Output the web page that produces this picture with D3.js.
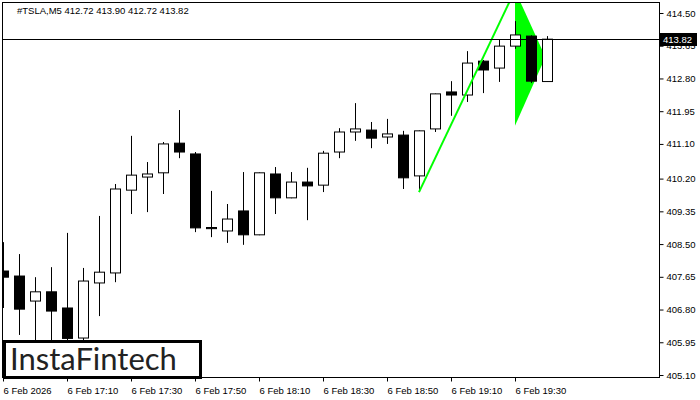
<!DOCTYPE html>
<html>
<head>
<meta charset="utf-8">
<script src="https://cdn.jsdelivr.net/npm/d3@7"></script>
<style>
  body { margin: 0; background: #fff; }
  svg { display: block; font-family: "Liberation Sans", Arial, sans-serif; }
</style>
</head>
<body>
<div id="chart-area"></div>
<script>
// M5 candles, bar 0 = 16:50
const opens  = [407.80, 407.67, 407.02, 407.26, 406.84, 406.06, 407.49, 407.75, 409.90, 410.24,
                410.35, 411.12, 410.84, 408.93, 408.84, 409.36, 408.74, 410.32, 409.70, 410.11,
                410.03, 410.89, 411.41, 411.46, 411.28, 411.33, 410.27, 411.49, 412.45, 412.37,
                413.25, 413.07, 413.64, 413.90, 412.72];
const highs  = [408.55, 408.24, 407.64, 407.90, 408.79, 407.88, 409.23, 410.06, 411.31, 410.63,
                411.15, 411.98, 410.89, 409.88, 409.54, 410.37, 410.36, 410.50, 410.37, 410.48,
                410.92, 411.51, 412.16, 411.67, 411.75, 411.44, 411.45, 412.41, 412.73, 413.51,
                413.28, 413.82, 414.29, 413.92, 413.90];
const lows   = [406.84, 406.14, 405.88, 405.75, 405.90, 406.00, 406.63, 407.51, 409.28, 409.33,
                409.80, 410.73, 408.81, 408.68, 408.53, 408.48, 408.73, 409.28, 409.69, 409.12,
                409.85, 410.73, 411.18, 410.99, 411.10, 409.93, 409.85, 411.41, 411.83, 412.19,
                412.42, 412.71, 413.57, 412.68, 412.72];
const closes = [407.64, 406.81, 407.26, 406.76, 406.05, 407.54, 407.77, 409.93, 410.29, 410.32,
                411.10, 410.89, 408.92, 408.90, 409.15, 408.74, 410.35, 409.70, 410.11, 410.01,
                410.86, 411.41, 411.49, 411.25, 411.36, 410.22, 411.44, 412.40, 412.37, 413.20,
                413.02, 413.64, 413.93, 412.73, 413.82];

const priceTicks = [414.50, 413.65, 412.80, 411.95, 411.10, 410.20, 409.35, 408.50, 407.65, 406.80, 405.95, 405.10];
const timeLabels = ["6 Feb 2026", "6 Feb 17:10", "6 Feb 17:30", "6 Feb 17:50", "6 Feb 18:10",
                    "6 Feb 18:30", "6 Feb 18:50", "6 Feb 19:10", "6 Feb 19:30"];
const timeLabelBars = [0, 4, 8, 12, 16, 20, 24, 28, 32];

const lastPrice = 413.82;
const titleText = "#TSLA,M5  412.72 413.90 412.72 413.82";

// bullish pennant (bar index, price)
const poleBars = [26, 32];
const polePrices = [409.85, 415.09];
const flagBars = [32, 33.9, 32];
const flagPrices = [415.09, 413.36, 411.57];

const width = 700, height = 400;
const plot = { left: 3, top: 3, right: 660, bottom: 378 };

const svg = d3.select("#chart-area")
  .append("svg")
  .attr("width", width)
  .attr("height", height);

const x = d3.scaleLinear().domain([0, (plot.right - plot.left) / 16]).range([plot.left, plot.right]);
const y = d3.scaleLinear().domain([405.10, 414.50]).range([375, 13]);

svg.append("defs").append("clipPath").attr("id", "plot-clip")
  .append("rect")
  .attr("x", plot.left).attr("y", plot.top)
  .attr("width", plot.right - plot.left).attr("height", plot.bottom - plot.top);

const g = svg.append("g").attr("clip-path", "url(#plot-clip)");

// flag sits behind the candles
g.append("path")
  .attr("d", d3.line()(flagBars.map((b, i) => [x(b), y(flagPrices[i])])) + "Z")
  .attr("fill", "#00ff00");

const bars = d3.range(opens.length);
const half = 5;

g.selectAll(".wick")
  .data(bars)
  .enter()
  .append("line")
  .attr("class", "wick")
  .attr("x1", i => Math.round(x(i)) + 0.5)
  .attr("x2", i => Math.round(x(i)) + 0.5)
  .attr("y1", i => y(highs[i]))
  .attr("y2", i => y(lows[i]))
  .attr("stroke", "#000")
  .attr("stroke-width", 1);

g.selectAll(".body")
  .data(bars)
  .enter()
  .append("rect")
  .attr("class", "body")
  .attr("x", i => Math.round(x(i)) - half + 0.5)
  .attr("y", i => y(Math.max(opens[i], closes[i])))
  .attr("width", half * 2)
  .attr("height", i => Math.max(1, Math.abs(y(opens[i]) - y(closes[i]))))
  .attr("fill", i => closes[i] >= opens[i] ? "#fff" : "#000")
  .attr("stroke", "#000")
  .attr("stroke-width", 1);

// pole line
g.append("line")
  .attr("x1", x(poleBars[0])).attr("y1", y(polePrices[0]))
  .attr("x2", x(poleBars[1])).attr("y2", y(polePrices[1]))
  .attr("stroke", "#00ff00")
  .attr("stroke-width", 2);

// current price line
svg.append("line")
  .attr("x1", plot.left).attr("x2", plot.right)
  .attr("y1", Math.round(y(lastPrice)) + 0.5).attr("y2", Math.round(y(lastPrice)) + 0.5)
  .attr("stroke", "#000");

// frame
svg.append("rect")
  .attr("x", plot.left - 0.5).attr("y", plot.top - 0.5)
  .attr("width", plot.right - plot.left).attr("height", plot.bottom - plot.top)
  .attr("fill", "none")
  .attr("stroke", "#000");

// price axis
const yAxisGroup = svg.append("g")
  .attr("transform", "translate(" + (plot.right - 0.5) + ",0)")
  .call(d3.axisRight(y).tickValues(priceTicks).tickSize(4).tickPadding(3).tickFormat(d3.format(".2f")));
yAxisGroup.select(".domain").remove();
yAxisGroup.selectAll("text").attr("font-size", "9.5px").attr("fill", "#000").attr("font-family", "Liberation Sans, Arial, sans-serif");
yAxisGroup.selectAll("line").attr("stroke", "#000");

// time axis
const xAxisGroup = svg.append("g")
  .attr("transform", "translate(0," + (plot.bottom - 0.5) + ")")
  .call(d3.axisBottom(x).tickValues(timeLabelBars).tickSize(4).tickPadding(6)
    .tickFormat((d, i) => timeLabels[i]));
xAxisGroup.select(".domain").remove();
xAxisGroup.selectAll("text")
  .attr("text-anchor", "start")
  .attr("font-size", "9.5px")
  .attr("fill", "#000")
  .attr("font-family", "Liberation Sans, Arial, sans-serif");
xAxisGroup.selectAll("line").attr("stroke", "#000");

// last price tag
const tagY = Math.round(y(lastPrice));
svg.append("rect")
  .attr("x", plot.right).attr("y", tagY - 6)
  .attr("width", 37).attr("height", 13)
  .attr("fill", "#000");
svg.append("text")
  .attr("x", plot.right + 3).attr("y", tagY + 4)
  .attr("font-size", "9.5px")
  .attr("fill", "#fff")
  .text(d3.format(".2f")(lastPrice));

// title
svg.append("text")
  .attr("x", 17).attr("y", 14)
  .attr("font-size", "9.5px")
  .attr("fill", "#000")
  .text(titleText);

// logo
svg.append("rect")
  .attr("x", 4.5).attr("y", 341.5)
  .attr("width", 196).attr("height", 36)
  .attr("fill", "#fff")
  .attr("stroke", "#000")
  .attr("stroke-width", 3);
svg.append("text")
  .attr("x", 10).attr("y", 370)
  .attr("font-family", "Lato, 'Open Sans', sans-serif")
  .attr("font-size", "31px")
  .attr("fill", "#222")
  .text("InstaFintech");
</script>
</body>
</html>
